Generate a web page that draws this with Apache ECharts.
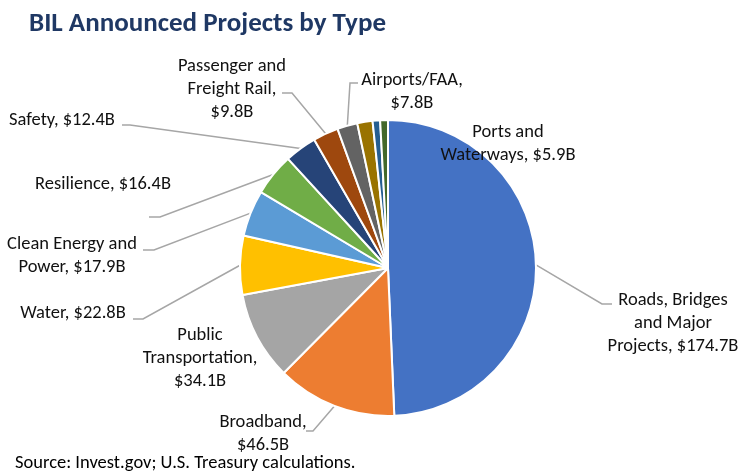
<!DOCTYPE html>
<html><head><meta charset="utf-8">
<script src="https://cdn.jsdelivr.net/npm/echarts@6/dist/echarts.min.js"></script>
<style>html,body{margin:0;padding:0;background:#fff}#c{width:746px;height:476px}</style>
</head><body><div id="c"></div>
<script>
// ---- data ----
const categories = ['Roads, Bridges and Major Projects', 'Broadband', 'Public Transportation', 'Water',
  'Clean Energy and Power', 'Resilience', 'Safety', 'Passenger and Freight Rail', 'Airports/FAA',
  'Ports and Waterways', 'Unlabeled A', 'Unlabeled B'];
const values = [174.7, 46.5, 34.1, 22.8, 17.9, 16.4, 12.4, 9.8, 7.8, 5.9, 2.9, 3.0];
const labelNames = ['Roads, Bridges\nand Major\nProjects', 'Broadband', 'Public\nTransportation', 'Water',
  'Clean Energy and\nPower', 'Resilience', 'Safety', 'Passenger and\nFreight Rail', 'Airports/FAA',
  'Ports and\nWaterways', '', ''];
const breakAfterComma = [false, true, true, false, false, false, false, true, true, false, false, false];
const colors = ['#4472C4', '#ED7D31', '#A5A5A5', '#FFC000', '#5B9BD5', '#70AD47', '#264478',
  '#9E480E', '#636363', '#997300', '#255E91', '#43682B'];

// ---- label layout (positions only) ----
const labelPos = [
  {x: 673, y: 323, line: [[602, 304], [612, 304]]},
  {x: 263, y: 434, line: [[313, 431], [306, 431]]},
  {x: 200, y: 358},
  {x: 73, y: 313, line: [[143, 319], [133, 319]]},
  {x: 72, y: 256, line: [[154, 250], [143, 250]]},
  {x: 103, y: 184, line: [[160, 217], [149, 217]]},
  {x: 62, y: 120, line: [[130, 125], [122, 125]]},
  {x: 232, y: 89, line: [[292, 93], [282, 93]]},
  {x: 412, y: 92, line: [[350, 83], [358, 83]]},
  {x: 508, y: 144},
  null, null
];

const FONT = 'Carlito, Calibri, Lato, sans-serif';
const chart = echarts.init(document.getElementById('c'));
chart.setOption({
  animation: false,
  title: [
    {text: 'BIL Announced Projects by Type', left: 24, top: 6,
     textStyle: {fontFamily: FONT, fontSize: 27, fontWeight: 'bold', color: '#1F3864'}},
    {text: 'Source: Invest.gov; U.S. Treasury calculations.', left: 10, top: 449,
     textStyle: {fontFamily: FONT, fontSize: 18.5, fontWeight: 'normal', color: '#000'}}
  ],
  series: [{
    type: 'pie',
    center: [388, 268],
    radius: [0, 148],
    startAngle: 90,
    clockwise: true,
    avoidLabelOverlap: false,
    emphasis: {disabled: true},
    itemStyle: {borderColor: '#fff', borderWidth: 2},
    label: {
      position: 'outside',
      fontFamily: FONT, fontSize: 18.5, lineHeight: 23, color: '#111', align: 'center',
      formatter: function (p) {
        const i = p.dataIndex;
        return labelNames[i] + ',' + (breakAfterComma[i] ? '\n' : ' ') + '$' + values[i].toFixed(1) + 'B';
      }
    },
    labelLine: {show: true, lineStyle: {color: '#A6A6A6', width: 1.5}},
    labelLayout: function (p) {
      const L = labelPos[p.dataIndex];
      if (!L) return {};
      const out = {x: L.x, y: L.y, align: 'center', verticalAlign: 'middle'};
      if (L.line && p.labelLinePoints) {
        out.labelLinePoints = [p.labelLinePoints[0], L.line[0], L.line[1]];
      }
      return out;
    },
    data: categories.map(function (n, i) {
      return {
        name: n, value: values[i],
        itemStyle: {color: colors[i]},
        label: {show: !!labelPos[i]},
        labelLine: {show: !!(labelPos[i] && labelPos[i].line)}
      };
    })
  }]
});
</script></body></html>
